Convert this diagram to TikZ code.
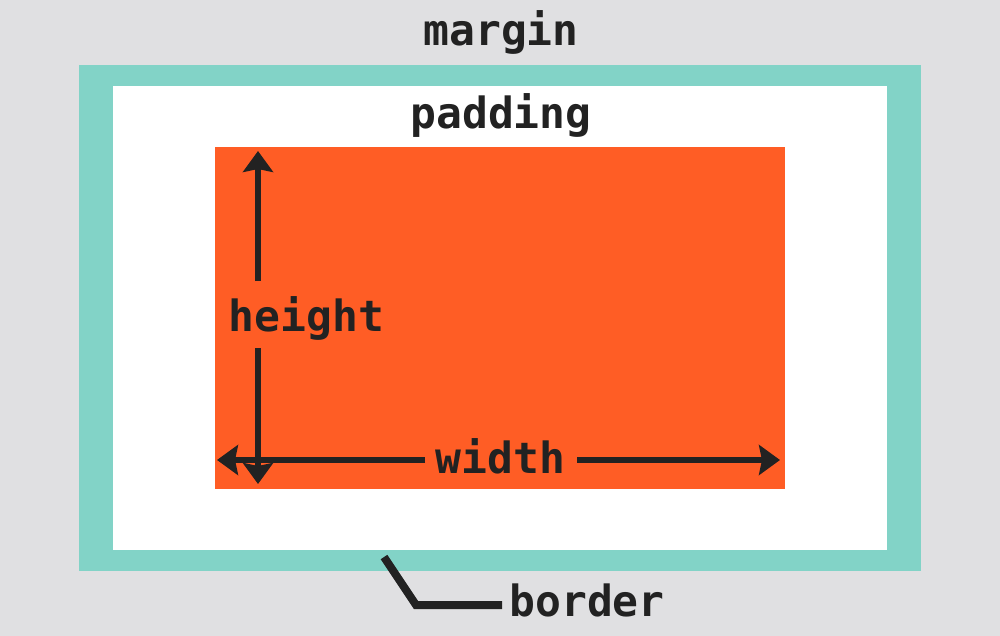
\documentclass[tikz,border=0pt]{standalone}
\usepackage{fontspec}
\setmonofont{DejaVu Sans Mono}
\usetikzlibrary{arrows.meta}
\definecolor{bgc}{HTML}{E0E0E2}
\definecolor{tealc}{HTML}{82D3C7}
\definecolor{orangec}{HTML}{FF5D25}
\definecolor{inkc}{HTML}{222222}
\tikzset{
  lbl/.style={inner sep=0pt, anchor=base, text=inkc, font=\ttfamily\bfseries\fontsize{43}{43}\selectfont},
  dimarrow/.style={draw=inkc, line width=6pt, -{Stealth[length=21pt,width=30pt,inset=3pt]}},
  leader/.style={draw=inkc, line width=8pt, miter limit=10}
}
\begin{document}
\begin{tikzpicture}[x=1pt,y=-1pt]
  \fill[bgc] (0,0) rectangle (1000,636);
  \useasboundingbox (0,0) rectangle (1000,636);
  \fill[tealc] (79,65) rectangle (921,571);
  \fill[white] (113,86) rectangle (887,550);
  \fill[orangec] (215,147) rectangle (785,489);
  \node[lbl] (margin) at (501,46) {margin};
  \node[lbl] (padding) at (501,129) {padding};
  \node[lbl] (height) at (306.5,331) {height};
  \node[lbl] (width) at (500.5,473) {width};
  \node[lbl] (border) at (587,616) {border};
  % vertical arrow
  \coordinate (vtopS) at (258,281);
  \coordinate (vtopE) at (258,151);
  \coordinate (vbotS) at (258,348);
  \coordinate (vbotE) at (258,484);
  \draw[dimarrow] (vtopS) -- (vtopE);
  \draw[dimarrow] (vbotS) -- (vbotE);
  % horizontal arrow
  \coordinate (hlS) at (425,460);
  \coordinate (hlE) at (217,460);
  \coordinate (hrS) at (577,460);
  \coordinate (hrE) at (780,460);
  \draw[dimarrow] (hlS) -- (hlE);
  \draw[dimarrow] (hrS) -- (hrE);
  % border leader
  \coordinate (lA) at (384,557);
  \coordinate (lB) at (416,605);
  \coordinate (lC) at (502,605);
  \draw[leader] (lA) -- (lB) -- (lC);
\end{tikzpicture}
\end{document}
